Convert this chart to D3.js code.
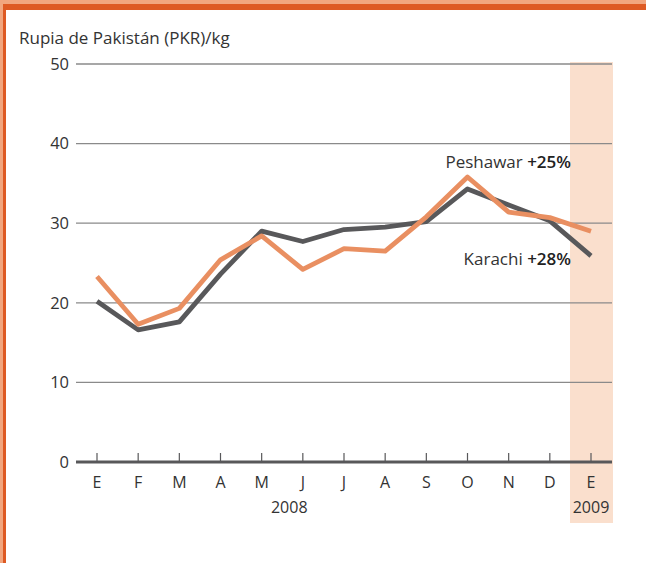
<!DOCTYPE html>
<html><head><meta charset="utf-8">
<script src="https://cdn.jsdelivr.net/npm/d3@7/dist/d3.min.js"></script>
<style>
body{margin:0;background:#fff;}
svg{display:block;font-family:"Open Sans","Noto Sans",sans-serif;}
</style></head><body>
<svg id="c" width="646" height="563"></svg>
<script>
const months = ["E","F","M","A","M","J","J","A","S","O","N","D","E"];
const karachi = [20.2,16.6,17.6,23.6,29.0,27.7,29.2,29.5,30.2,34.3,32.3,30.3,25.9];
const peshawar = [23.3,17.3,19.3,25.4,28.4,24.2,26.8,26.5,30.8,35.8,31.4,30.7,29.0];
const yTicks = [0,10,20,30,40,50];
const yearLabels = [{label:"2008", pos:4.67},{label:"2009", pos:12}];

const svg = d3.select("#c");
// frame
svg.append("rect").attr("x",0).attr("y",0).attr("width",646).attr("height",4).attr("fill","#f2a67e");
svg.append("rect").attr("x",0).attr("y",0).attr("width",3).attr("height",563).attr("fill","#f2a67e");
svg.append("rect").attr("x",3).attr("y",4).attr("width",643).attr("height",6).attr("fill","#de5a23");
svg.append("rect").attr("x",3).attr("y",4).attr("width",3).attr("height",559).attr("fill","#de5a23");

const x = d3.scaleLinear().domain([0,12]).range([97,591]);
const y = d3.scaleLinear().domain([0,50]).range([462,64]);

// shaded 2009
svg.append("rect").attr("x",570).attr("y",62).attr("width",43).attr("height",461).attr("fill","#fadfcd");

// title
svg.append("text").attr("x",19).attr("y",44).attr("font-size",17).attr("fill","#333").text("Rupia de Pakistán (PKR)/kg");

// y axis labels
const yAxis = d3.axisLeft(y).tickValues(yTicks).tickSize(0).tickPadding(8);
const gy = svg.append("g").attr("transform","translate(77,0)").call(yAxis);
gy.select(".domain").remove();
gy.selectAll("text").attr("font-size",16.5).attr("fill","#333").attr("font-family","'Open Sans','Noto Sans',sans-serif");
// gridlines
svg.append("g").selectAll("line").data(yTicks.filter(d=>d>0)).join("line")
  .attr("x1",76).attr("x2",612).attr("y1",d=>y(d)).attr("y2",d=>y(d))
  .attr("stroke","#8a8a8a").attr("stroke-width",1.3);

// lines
const line = arr => d3.line().x((d,i)=>x(i)).y(d=>y(d))(arr);
svg.append("path").attr("d",line(karachi)).attr("fill","none").attr("stroke","#58585a").attr("stroke-width",4.8).attr("stroke-linejoin","round");
svg.append("path").attr("d",line(peshawar)).attr("fill","none").attr("stroke","#e98f61").attr("stroke-width",4.8).attr("stroke-linejoin","round");

// x axis
svg.append("line").attr("x1",76).attr("x2",612).attr("y1",y(0)).attr("y2",y(0)).attr("stroke","#58585a").attr("stroke-width",3);
const gx = svg.append("g");
gx.selectAll("line").data(months).join("line")
  .attr("x1",(d,i)=>x(i)).attr("x2",(d,i)=>x(i)).attr("y1",y(0)).attr("y2",y(0)-9)
  .attr("stroke","#58585a").attr("stroke-width",1.2);
gx.selectAll("text").data(months).join("text")
  .attr("x",(d,i)=>x(i)).attr("y",488).attr("text-anchor","middle")
  .attr("font-size",16).attr("fill","#333").text(d=>d);
svg.append("g").selectAll("text").data(yearLabels).join("text")
  .attr("x",d=>x(d.pos)).attr("y",513).attr("text-anchor","middle")
  .attr("font-size",16).attr("fill","#333").text(d=>d.label);

// labels
const lab = (txt,bold,ty)=>{
  const t = svg.append("text").attr("x",571).attr("y",ty).attr("text-anchor","end").attr("font-size",17).attr("fill","#333");
  t.append("tspan").text(txt+" ");
  t.append("tspan").attr("font-weight",600).attr("fill","#222").text(bold);
};
lab("Peshawar","+25%",168);
lab("Karachi","+28%",265);
</script>
</body></html>
